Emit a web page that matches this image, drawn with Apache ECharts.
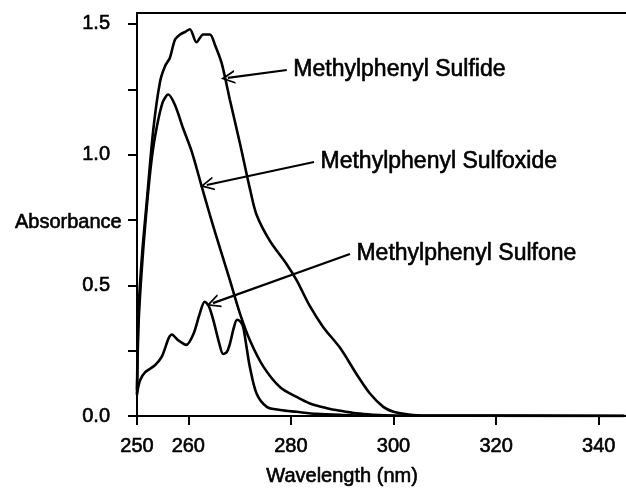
<!DOCTYPE html>
<html>
<head>
<meta charset="utf-8">
<script src="https://cdn.jsdelivr.net/npm/echarts@6/dist/echarts.min.js"></script>
<style>
  html, body { margin: 0; padding: 0; background: #fff; }
  #chart { width: 626px; height: 489px; }
</style>
</head>
<body>
<div id="chart"></div>
<script>
// wavelength (nm) / absorbance
var sulfideNm  = [250.0, 250.3, 251.0, 251.9, 253.2, 254.5, 255.5, 256.4, 257.4, 258.4, 259.4, 260.3, 261.6, 262.9, 264.2, 265.2, 266.5, 268.1, 270.1, 272.0, 273.3, 275.9, 279.2, 281.1, 283.7, 286.3, 289.6, 292.8, 295.4, 298.0, 300.0, 302.0, 305.0, 345.0];
var sulfideAbs = [0.10, 0.40, 0.62, 0.82, 1.10, 1.28, 1.34, 1.37, 1.44, 1.46, 1.47, 1.48, 1.43, 1.46, 1.46, 1.42, 1.35, 1.21, 1.04, 0.87, 0.77, 0.67, 0.58, 0.52, 0.42, 0.34, 0.26, 0.16, 0.086, 0.035, 0.016, 0.008, 0.002, 0.0];

var sulfoxideNm  = [250.0, 250.3, 251.0, 252.0, 252.9, 253.8, 255.0, 256.1, 257.4, 259.0, 260.7, 262.3, 264.2, 266.2, 268.1, 270.1, 272.0, 274.6, 277.9, 281.1, 283.7, 287.0, 289.6, 292.8, 296.0, 300.0, 345.0];
var sulfoxideAbs = [0.08, 0.35, 0.58, 0.82, 0.99, 1.10, 1.20, 1.23, 1.19, 1.10, 1.01, 0.90, 0.77, 0.64, 0.52, 0.39, 0.29, 0.19, 0.11, 0.073, 0.048, 0.03, 0.02, 0.01, 0.005, 0.002, 0.0];

var sulfoneNm  = [250.0, 250.6, 251.6, 253.5, 254.8, 256.8, 258.1, 259.6, 261.0, 262.2, 263.2, 264.0, 264.9, 266.0, 266.8, 267.5, 268.1, 268.9, 269.5, 270.2, 270.7, 271.3, 272.0, 273.3, 275.3, 277.9, 281.1, 285.0, 290.0, 295.0, 345.0];
var sulfoneAbs = [0.086, 0.137, 0.168, 0.194, 0.226, 0.312, 0.289, 0.272, 0.314, 0.39, 0.437, 0.42, 0.365, 0.28, 0.237, 0.245, 0.276, 0.34, 0.368, 0.36, 0.34, 0.27, 0.187, 0.086, 0.035, 0.023, 0.016, 0.008, 0.004, 0.002, 0.0];

var xTicks = [250, 260, 280, 300, 320, 340];
var yTicks = [0, 0.25, 0.5, 0.75, 1, 1.25, 1.5];
var yLabels = [0, 0.5, 1, 1.5];

// annotation arrows: [tail, tip] in data units, label sits right of the tail
var labelNames = ['Methylphenyl Sulfide', 'Methylphenyl Sulfoxide', 'Methylphenyl Sulfone'];
var arrowTail = [[279.2, 1.324], [284.5, 0.972], [291.5, 0.620]];
var arrowTip  = [[267.7, 1.294], [263.6, 0.884], [264.8, 0.432]];

var font = 'Liberation Sans, Arial, sans-serif';
var chevron = 'path://M5,0 L10,10 L8.6,10 L5,2.8 L1.4,10 L0,10 Z';
// scanned lettering is a bit heavy, thicken it with a thin outline
var ink = { color: '#000', fontFamily: font, textBorderColor: '#000', textBorderWidth: 0.6 };

function pairs(xs, ys) {
  return xs.map(function (x, i) { return [x, ys[i]]; });
}

function makeSeries(xs, ys, k) {
  return {
    type: 'line',
    data: pairs(xs, ys),
    showSymbol: false,
    smooth: 0.3,
    lineStyle: { color: '#000', width: 2.6 },
    markLine: {
      silent: true,
      symbol: ['none', chevron],
      symbolSize: [14, 14],
      label: { show: false },
      lineStyle: { color: '#000', width: 2.2, type: 'solid' },
      data: [[{ coord: arrowTail[k] }, { coord: arrowTip[k] }]]
    },
    markPoint: {
      silent: true,
      symbol: 'circle',
      symbolSize: 1,
      itemStyle: { color: 'rgba(0,0,0,0)' },
      label: Object.assign({
        show: true,
        position: 'right',
        distance: 6,
        formatter: '{b}',
        fontSize: 23
      }, ink),
      data: [{ name: labelNames[k], coord: arrowTail[k] }]
    }
  };
}

var chart = echarts.init(document.getElementById('chart'));
chart.setOption({
  animation: false,
  backgroundColor: '#fff',
  grid: { left: 137, top: 13, right: 0, bottom: 73 },
  xAxis: [{
    type: 'value',
    min: 250,
    max: 345.3,
    axisLine: { lineStyle: { color: '#000', width: 2 } },
    axisTick: { customValues: xTicks, length: 9, lineStyle: { color: '#000', width: 2 } },
    axisLabel: Object.assign({ customValues: xTicks, margin: 20, fontSize: 20 }, ink),
    splitLine: { show: false }
  }, {
    type: 'value',
    position: 'top',
    min: 250,
    max: 345.3,
    axisLine: { show: true, lineStyle: { color: '#000', width: 2 } },
    axisTick: { show: false },
    axisLabel: { show: false },
    splitLine: { show: false }
  }],
  yAxis: {
    type: 'value',
    min: 0,
    max: 1.542,
    axisLine: { show: true, lineStyle: { color: '#000', width: 2 } },
    axisTick: { show: true, customValues: yTicks, length: 9, lineStyle: { color: '#000', width: 2 } },
    axisLabel: Object.assign({
      customValues: yLabels,
      margin: 27,
      fontSize: 20,
      formatter: function (v) { return v.toFixed(1); }
    }, ink),
    splitLine: { show: false }
  },
  graphic: [{
    type: 'text',
    right: 626 - 122,
    top: 212,
    style: { text: 'Absorbance', fill: '#000', stroke: '#000', lineWidth: 0.6, font: '20px ' + font }
  }, {
    type: 'text',
    left: 266,
    top: 466,
    style: { text: 'Wavelength (nm)', fill: '#000', stroke: '#000', lineWidth: 0.6, font: '20px ' + font }
  }],
  series: [
    makeSeries(sulfideNm, sulfideAbs, 0),
    makeSeries(sulfoxideNm, sulfoxideAbs, 1),
    makeSeries(sulfoneNm, sulfoneAbs, 2)
  ]
});
</script>
</body>
</html>
